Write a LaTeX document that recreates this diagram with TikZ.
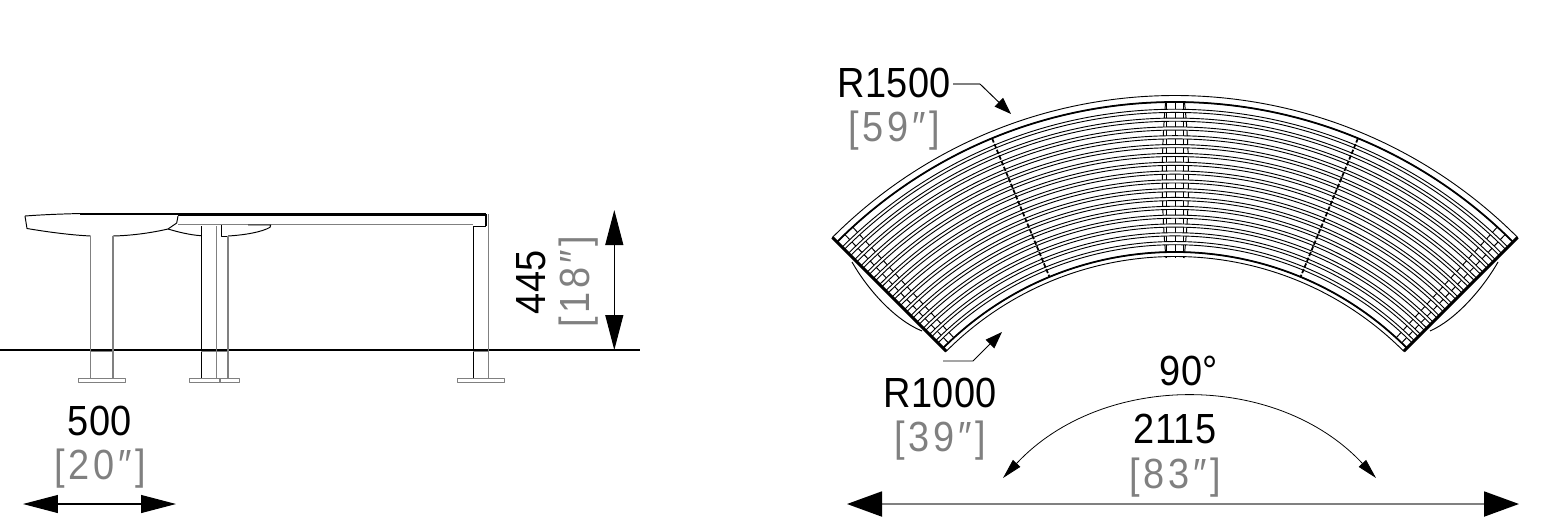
\documentclass[tikz,border=0pt]{standalone}
\usepackage{fontspec}
\setmainfont[FakeStretch=0.9,LetterSpace=1]{Liberation Sans}
\newfontfamily\inchfont[FakeStretch=0.9,LetterSpace=9]{Liberation Sans}
\usetikzlibrary{arrows.meta}

\definecolor{dim_gray}{gray}{0.5}

\begin{document}
\begin{tikzpicture}[x=0.02cm, y=-0.02cm, line join=round,
		label_style/.style={inner sep=0pt,font=\fontsize{24}{24}\selectfont},
		inch_style/.style={inner sep=0pt,font=\fontsize{24}{24}\selectfont\inchfont,text=dim_gray},
		edge_style/.style={draw=black,line width=0.6pt},
		grey_style/.style={draw=dim_gray,line width=0.8pt},
		thin_style/.style={draw=black,line width=0.55pt},
		thick_style/.style={draw=black,line width=1.7pt},
		slat_style/.style={draw=black,fill=white,line width=0.52pt},
		big_dim/.style={{Triangle[length=0.7cm,width=0.5cm,black]}-{Triangle[length=0.7cm,width=0.5cm,black]}},
		mid_dim/.style={{Triangle[length=0.7cm,width=0.36cm,black]}-{Triangle[length=0.7cm,width=0.36cm,black]}},
		small_arrow/.style={-{Triangle[length=0.34cm,width=0.24cm]}},
		arc_arrow/.style={{Triangle[length=0.4cm,width=0.2cm]}-{Triangle[length=0.4cm,width=0.2cm]}}]

		\useasboundingbox (0,0) rectangle (1544,525);

		% side view
		\draw[thick_style,line width=1.1pt] (0,350) -- (640,350);
		\draw[thick_style,line width=1.1pt] (80,213.7) -- (178,213.7);
		\draw[thick_style] (178,214) -- (486,214);
		\draw[thin_style] (25,216) .. controls (45,214.5) and (62,214) .. (80,213.5);
		\draw[thin_style] (25,216) -- (27,228.5) .. controls (48,232) and (70,235) .. (90.7,236);
		\draw[thin_style] (113,236) .. controls (135,235.5) and (155,232) .. (168,229) -- (176.7,223) -- (178,216);
		\draw[grey_style] (178.3,224.7) -- (473,224.7);
		\draw[thin_style] (168,229) .. controls (178,232) and (190,235) .. (201.3,235.7);
		\draw[thin_style] (221.3,225) -- (221.3,236) -- (228,236);
		\draw[thin_style] (228,236) .. controls (245,235) and (262,232) .. (270,227.3) -- (270.7,225) -- (248,225);

		\foreach \stemx in {90.7,113,216.7,228,488.3}
			\draw[grey_style] (\stemx,236) -- (\stemx,378);
		\foreach \stemx in {201.3,473.3}
			\draw[thin_style] (\stemx,226) -- (\stemx,378);
		\draw[grey_style] (216.7,226) -- (216.7,236);
		\draw[grey_style] (488.3,214) -- (488.3,236);
		\draw[thick_style,line width=1.2pt] (485.7,214) -- (485.7,226);
		\draw[thin_style] (473.3,226) -- (485.7,226);
		\draw[grey_style] (90.7,351.5) -- (113,351.5);
		\draw[grey_style] (201.3,351.5) -- (228,351.5);
		\draw[grey_style] (473.3,351.5) -- (488.3,351.5);

		\foreach \footx/\footw in {78.7/46.6,189.3/50,457.3/47}
			\draw[grey_style] (\footx,378.3) rectangle ++(\footw,4);
		\draw[grey_style] (220,378.3) -- (220,382.3);

		% plan view
		\draw[thin_style] (852,262) .. controls (868,290) and (895,320) .. (922,331);
		\draw[thin_style] (1498,262) .. controls (1482,290) and (1455,320) .. (1430,331);

		\draw[thin_style] (1175,98) -- (1175,258);
		\foreach \barx in {-8.5,8.5}
			\draw[thin_style] (1175+\barx,98) -- (1175+\barx,258);
		\draw[thin_style] (1166,98) .. controls (1161,150) and (1161,205) .. (1166,258);
		\draw[thin_style] (1184,98) .. controls (1190,150) and (1190,205) .. (1184,258);

		\begin{scope}[shift={(1175,580)},y=0.02cm]
			\foreach \endang in {46.3,47.6,133.7,132.4}
				\draw[thin_style] (\endang:325) -- (\endang:480);
			\foreach \rout/\rin in {484.5/478,328/323.5}
				\draw[slat_style] (45:\rout) arc (45:135:\rout) -- (135:\rin) arc (135:45:\rin) -- cycle;
			\foreach \k in {1,...,16}
			{
				\pgfmathsetmacro{\rmid}{478-\k*8.82}
				\draw[slat_style] (45:\rmid+1.6) arc (45:135:\rmid+1.6) -- (135:\rmid-1.6) arc (135:45:\rmid-1.6) -- cycle;
			}
			\draw[thick_style,line width=1pt] (45:478) arc (45:135:478);
			\draw[thick_style,line width=1pt] (45:328) arc (45:135:328);
			\foreach \barang in {67.5,112.5}
				\draw[thick_style,line width=1pt,dash pattern=on 2.5pt off 1pt] (\barang:478) -- (\barang:328);
			\foreach \endang in {45,135}
				\draw[thick_style] (\endang:323.5) -- (\endang:484.5);
		\end{scope}

		% dimensions, side view
		\coordinate (d445_top) at (614.3,210);
		\coordinate (d445_bot) at (614.3,350);
		\draw[edge_style,mid_dim] (d445_top) -- (d445_bot);
		\node[label_style,rotate=90] (t445) at (531,282) {445};
		\node[inch_style,rotate=90] (t18) at (579,282) {[18″]};

		\coordinate (d500_l) at (23,504);
		\coordinate (d500_r) at (176,504);
		\draw[edge_style,mid_dim] (d500_l) -- (d500_r);
		\node[label_style] (t500) at (100,421) {500};
		\node[inch_style] (t20) at (100,469) {[20″]};

		% dimensions, plan view
		\node[label_style] (r1500) at (894,83) {R1500};
		\node[inch_style] (r1500_in) at (894,131) {[59″]};
		\coordinate (r1500_a) at (953,84);
		\coordinate (r1500_b) at (980,84);
		\coordinate (r1500_tip) at (1011,114);
		\draw[grey_style,line width=0.6pt] (r1500_a) -- (r1500_b);
		\draw[thin_style,small_arrow] (r1500_b) -- (r1500_tip);

		\node[label_style] (r1000) at (940,393) {R1000};
		\node[inch_style] (r1000_in) at (940,441) {[39″]};
		\coordinate (r1000_a) at (943,361);
		\coordinate (r1000_b) at (973,361);
		\coordinate (r1000_tip) at (1002,332);
		\draw[thin_style,small_arrow] (r1000_a) -- (r1000_b) -- (r1000_tip);

		\node[label_style] (t90) at (1189,371) {90°};
		\coordinate (a90_l) at (1003,478);
		\coordinate (a90_r) at (1376,478);
		\draw[edge_style,line width=0.45pt,arc_arrow] (a90_l) to[bend left=47] (a90_r);

		\node[label_style] (t2115) at (1175,429) {2115};
		\node[inch_style] (t83) at (1175,478) {[83″]};
		\coordinate (d2115_l) at (847,504);
		\coordinate (d2115_r) at (1519,504);
		\draw[grey_style,line width=1.1pt,big_dim] (d2115_l) -- (d2115_r);

\end{tikzpicture}
\end{document}
